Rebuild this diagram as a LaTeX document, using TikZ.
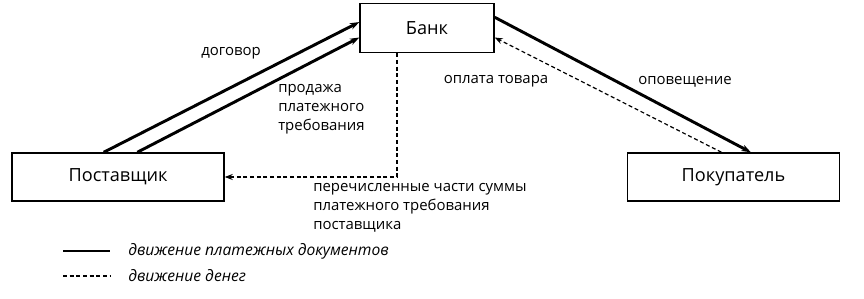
\documentclass[tikz,border=0pt]{standalone}
\usepackage{fontspec}
\setmainfont{Open Sans}
\usetikzlibrary{arrows.meta}

\tikzset{
  party/.style={draw,line width=1.1pt,minimum width=159pt,minimum height=36pt,
    inner sep=0pt,font=\fontsize{13.6}{16}\selectfont},
  lbl/.style={inner sep=0pt,align=left,font=\fontsize{11.2}{14.3}\selectfont},
  docline/.style={line width=2.2pt,-{Stealth[length=7pt,width=5pt]}},
  cashline/.style={line width=0.9pt,dash pattern=on 3pt off 2pt,-{Stealth[length=6pt,width=4.5pt]}}
}

\begin{document}
\begin{tikzpicture}[x=0.75pt,y=-0.75pt]
   \useasboundingbox (0,0) rectangle (864,299);
   % participants
   \node[party,minimum width=100.5pt,minimum height=36.75pt] (bank) at (427,28) {Банк};
   \node[party] (supplier) at (118,177) {Поставщик};
   \node[party] (buyer) at (733.5,177) {Покупатель};
   % documents
   \draw[docline] (supplier.120) -- (bank.175);
   \draw[docline] (supplier.52) -- (bank.188);
   \draw[docline] (bank.9) -- (buyer.55);
   % money
   \draw[cashline] (buyer.116) -- (bank.352);
   \draw[cashline] (bank.220) |- (supplier.east);
   % labels
   \node[lbl] (contract) at (231,53) {договор};
   \node[lbl,anchor=north west] (sale) at (278,84) {продажа\\платежного\\требования};
   \node[lbl] (payment) at (496,81) {оплата товара};
   \node[lbl] (notice) at (685,82) {оповещение};
   \node[lbl,anchor=north west] (transfer) at (313,183) {перечисленные части суммы\\платежного требования\\поставщика};
   % legend
   \coordinate (leg1a) at (63,251);
   \coordinate (leg1b) at (110,251);
   \coordinate (leg2a) at (63,276);
   \coordinate (leg2b) at (110,276);
   \draw[line width=2.2pt] (leg1a) -- (leg1b);
   \draw[line width=0.9pt,dash pattern=on 3pt off 2pt] (leg2a) -- (leg2b);
   \node[lbl,anchor=west,font=\fontsize{11.7}{14.3}\selectfont\itshape] (legdoc) at (128,251) {движение платежных документов};
   \node[lbl,anchor=west,font=\fontsize{11.7}{14.3}\selectfont\itshape] (legcash) at (128,276) {движение денег};
\end{tikzpicture}
\end{document}
